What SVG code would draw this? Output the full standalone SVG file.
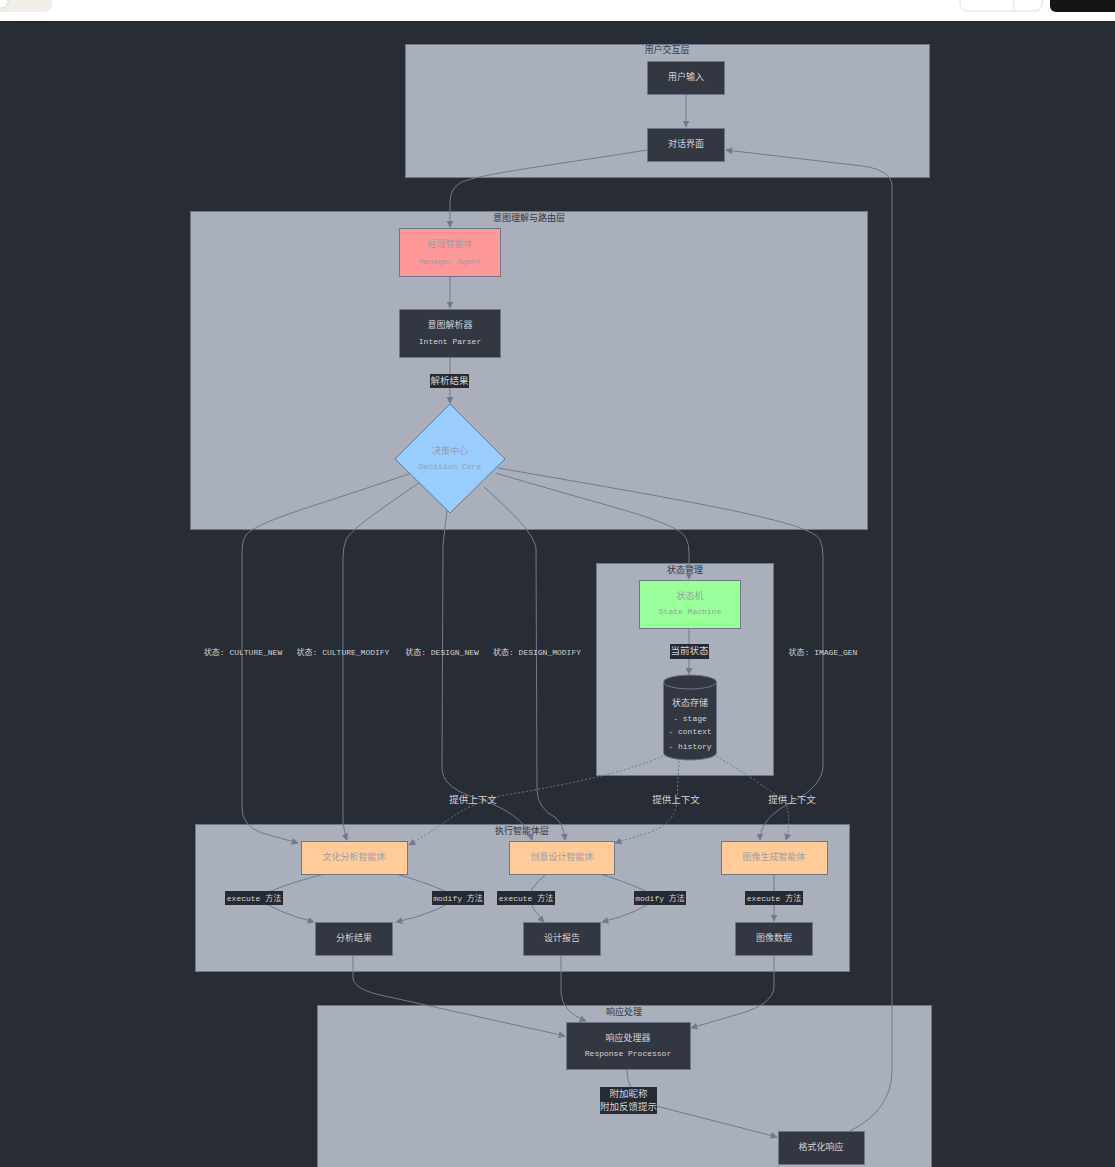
<svg xmlns="http://www.w3.org/2000/svg" width="1115" height="1167" viewBox="0 0 1115 1167">
  <defs>
    <marker id="arrow" viewBox="0 0 10 10" refX="9" refY="5" markerWidth="7" markerHeight="7" orient="auto-start-reverse" markerUnits="userSpaceOnUse">
      <path d="M0,0 L10,5 L0,10 z" fill="#6f7a8d"/>
    </marker>
    <style>
      .cluster { fill: #a9b0bc; stroke: #6f7888; stroke-width: 1; }
      .clabel { font-family: "Liberation Mono", "Noto Sans CJK SC", monospace; font-size: 9px; fill: #333740; text-anchor: middle; }
      .dark { fill: #333741; stroke: #6e7789; stroke-width: 1; }
      .txt { font-family: "Liberation Mono", "Noto Sans CJK SC", monospace; font-size: 8px; fill: #d2d4d8; text-anchor: middle; dominant-baseline: central; }
      .cjk { font-size: 9px; }
      .dim { fill: #9a9ea6; }
      .edge { fill: none; stroke: #6f7a8d; stroke-width: 1; }
      .dotted { stroke-dasharray: 2 2; }
      .elbg { fill: #262a33; }
      .eltxt { font-family: "Liberation Mono", "Noto Sans CJK SC", monospace; font-size: 8px; fill: #d2d4d8; text-anchor: middle; dominant-baseline: central; }
      .elcjk { font-size: 9.5px; }
    </style>
  </defs>

  <!-- page chrome -->
  <rect x="0" y="0" width="1115" height="21" fill="#ffffff"/>
  <rect x="-12" y="-12" width="64" height="24" rx="8" fill="#f0eee6"/>
  <rect x="-12" y="-12" width="20" height="20" rx="6" fill="#ffffff" stroke="#d8d6cf"/>
  <rect x="960" y="-12" width="82" height="23" rx="7" fill="#ffffff" stroke="#dedede"/>
  <line x1="1014" y1="0" x2="1014" y2="11" stroke="#dedede"/>
  <rect x="1050" y="-12" width="80" height="24" rx="6" fill="#141414"/>
  <rect x="0" y="21" width="1115" height="1146" fill="#282c34"/>

  <!-- clusters -->
  <g id="cluster-interaction">
    <rect class="cluster" x="405.5" y="44.5" width="524" height="133"/>
    <text class="clabel" x="667" y="53">用户交互层</text>
  </g>
  <g id="cluster-routing">
    <rect class="cluster" x="190.5" y="211.5" width="677" height="318"/>
    <text class="clabel" x="529" y="221">意图理解与路由层</text>
  </g>
  <g id="cluster-state">
    <rect class="cluster" x="596.5" y="563.5" width="177" height="212"/>
    <text class="clabel" x="685" y="573">状态管理</text>
  </g>
  <g id="cluster-agents">
    <rect class="cluster" x="195.5" y="824.5" width="654" height="147"/>
    <text class="clabel" x="522" y="834">执行智能体层</text>
  </g>
  <g id="cluster-response">
    <rect class="cluster" x="317.5" y="1005.5" width="614" height="170"/>
    <text class="clabel" x="624" y="1015">响应处理</text>
  </g>

  <!-- connectors -->
  <g id="connectors">
    <path class="edge" d="M686,95 L686,127" marker-end="url(#arrow)"/>
    <path class="edge" d="M647,150 C560,164 480,174 462,182 Q450,188 450,202 L450,227" marker-end="url(#arrow)"/>
    <path class="edge" d="M850,1131 Q892,1110 892,1070 L892,186 Q892,170 862,166 L726,150" marker-end="url(#arrow)"/>
    <path class="edge" d="M450,276 L450,308" marker-end="url(#arrow)"/>
    <path class="edge" d="M450,357 L450,403" marker-end="url(#arrow)"/>

    <path class="edge" d="M411,473 C330,502 258,520 246,535 Q242,541 242,552 L242,808 Q242,826 262,833 L298,843" marker-end="url(#arrow)"/>
    <path class="edge" d="M420,482 C380,510 352,528 346,540 Q343,547 343,558 L343,822 Q344,832 347,840" marker-end="url(#arrow)"/>
    <path class="edge" d="M447,510 L443,545 L442,768 Q442,786 470,796 Q524,812 532,840" marker-end="url(#arrow)"/>
    <path class="edge" d="M484,487 C515,515 533,533 536,548 L537,790 Q537,808 556,818 Q564,826 565,840" marker-end="url(#arrow)"/>
    <path class="edge" d="M496,473 C600,505 676,520 686,538 Q689,544 689,552 L689,579" marker-end="url(#arrow)"/>
    <path class="edge" d="M498,468 C700,503 812,522 820,540 Q823,546 823,556 L823,765 Q823,786 792,802 Q760,818 760,840" marker-end="url(#arrow)"/>

    <path class="edge" d="M689,628 L689,674" marker-end="url(#arrow)"/>
    <path class="edge dotted" d="M663,756 Q620,776 500,796 Q470,805 455,815 Q430,833 409,845" marker-end="url(#arrow)"/>
    <path class="edge dotted" d="M679,761 L677,800 Q676,825 645,834 L615,843" marker-end="url(#arrow)"/>
    <path class="edge dotted" d="M716,756 Q760,782 785,802 Q792,820 786,840" marker-end="url(#arrow)"/>

    <path class="edge" d="M324,874 Q272,888 258,898 Q275,912 314,922" marker-end="url(#arrow)"/>
    <path class="edge" d="M396,874 Q445,888 455,898 Q440,912 396,922" marker-end="url(#arrow)"/>
    <path class="edge" d="M546,874 Q530,888 528,898 Q534,912 544,922" marker-end="url(#arrow)"/>
    <path class="edge" d="M600,874 Q645,888 656,898 Q642,912 602,922" marker-end="url(#arrow)"/>
    <path class="edge" d="M774,874 L774,921" marker-end="url(#arrow)"/>

    <path class="edge" d="M353,955 L353,978 Q354,990 385,996 L565,1036" marker-end="url(#arrow)"/>
    <path class="edge" d="M561,955 L561,993 Q562,1012 586,1021" marker-end="url(#arrow)"/>
    <path class="edge" d="M774,955 L774,988 Q772,1004 742,1013 L691,1028" marker-end="url(#arrow)"/>
    <path class="edge" d="M627,1069 C627,1086 634,1096 656,1106 L777,1137" marker-end="url(#arrow)"/>
  </g>

  <!-- connector labels -->
  <g id="edge-labels">
    <rect class="elbg" x="430" y="374" width="39" height="14"/>
    <text class="eltxt elcjk" x="449.5" y="381">解析结果</text>
    <text class="eltxt" x="243" y="652">状态: CULTURE_NEW</text>
    <text class="eltxt" x="343" y="652">状态: CULTURE_MODIFY</text>
    <text class="eltxt" x="442" y="652">状态: DESIGN_NEW</text>
    <text class="eltxt" x="537" y="652">状态: DESIGN_MODIFY</text>
    <text class="eltxt" x="823" y="652">状态: IMAGE_GEN</text>
    <rect class="elbg" x="670" y="644" width="39" height="15"/>
    <text class="eltxt elcjk" x="689.5" y="651.5">当前状态</text>
    <text class="eltxt elcjk" x="473" y="800">提供上下文</text>
    <text class="eltxt elcjk" x="676" y="800">提供上下文</text>
    <text class="eltxt elcjk" x="792" y="800">提供上下文</text>
    <rect class="elbg" x="225" y="891" width="58" height="14"/>
    <text class="eltxt" x="254" y="898">execute 方法</text>
    <rect class="elbg" x="432" y="891" width="52" height="14"/>
    <text class="eltxt" x="458" y="898">modify 方法</text>
    <rect class="elbg" x="497" y="891" width="58" height="14"/>
    <text class="eltxt" x="526" y="898">execute 方法</text>
    <rect class="elbg" x="634" y="891" width="52" height="14"/>
    <text class="eltxt" x="660" y="898">modify 方法</text>
    <rect class="elbg" x="745" y="891" width="58" height="14"/>
    <text class="eltxt" x="774" y="898">execute 方法</text>
    <rect class="elbg" x="600" y="1087" width="57" height="27"/>
    <text class="eltxt elcjk" x="628.5" y="1094">附加昵称</text>
    <text class="eltxt elcjk" x="628.5" y="1107.5">附加反馈提示</text>
  </g>

  <!-- nodes -->
  <g id="node-user-input">
    <rect class="dark" x="647.5" y="61.5" width="77" height="33"/>
    <text class="txt cjk" x="686" y="78">用户输入</text>
  </g>
  <g id="node-chat-ui">
    <rect class="dark" x="647.5" y="128.5" width="77" height="33"/>
    <text class="txt cjk" x="686" y="145">对话界面</text>
  </g>
  <g id="node-manager">
    <rect x="399.5" y="228.5" width="101" height="48" fill="#ff9999" stroke="#6e7789"/>
    <text class="txt cjk dim" x="450" y="245">经理智能体</text>
    <text class="txt dim" x="450" y="261">Manager Agent</text>
  </g>
  <g id="node-intent-parser">
    <rect class="dark" x="399.5" y="309.5" width="101" height="48"/>
    <text class="txt cjk" x="450" y="326">意图解析器</text>
    <text class="txt" x="450" y="341">Intent Parser</text>
  </g>
  <g id="node-decision">
    <polygon points="450,404 505,459 450,513 395,459" fill="#99ccff" stroke="#6e7789"/>
    <text class="txt cjk dim" x="450" y="452">决策中心</text>
    <text class="txt dim" x="450" y="466">Decision Core</text>
  </g>
  <g id="node-state-machine">
    <rect x="639.5" y="580.5" width="101" height="48" fill="#99ff99" stroke="#6e7789"/>
    <text class="txt cjk dim" x="690" y="597">状态机</text>
    <text class="txt dim" x="690" y="611">State Machine</text>
  </g>
  <g id="node-state-store">
    <path d="M663.5,682 L663.5,753 A26.5,7 0 0 0 716.5,753 L716.5,682 A26.5,7 0 0 0 663.5,682 Z" fill="#333741" stroke="#6e7789"/>
    <path d="M663.5,682 A26.5,7 0 0 0 716.5,682" fill="none" stroke="#6e7789"/>
    <text class="txt cjk" x="690" y="704">状态存储</text>
    <text class="txt" x="690" y="718">- stage</text>
    <text class="txt" x="690" y="731">- context</text>
    <text class="txt" x="690" y="746">- history</text>
  </g>
  <g id="node-culture-agent">
    <rect x="301.5" y="841.5" width="106" height="33" fill="#ffcc99" stroke="#6e7789"/>
    <text class="txt cjk dim" x="354" y="858">文化分析智能体</text>
  </g>
  <g id="node-design-agent">
    <rect x="509.5" y="841.5" width="105" height="33" fill="#ffcc99" stroke="#6e7789"/>
    <text class="txt cjk dim" x="562" y="858">创意设计智能体</text>
  </g>
  <g id="node-image-agent">
    <rect x="721.5" y="841.5" width="106" height="33" fill="#ffcc99" stroke="#6e7789"/>
    <text class="txt cjk dim" x="774" y="858">图像生成智能体</text>
  </g>
  <g id="node-analysis-result">
    <rect class="dark" x="315.5" y="922.5" width="77" height="33"/>
    <text class="txt cjk" x="354" y="939">分析结果</text>
  </g>
  <g id="node-design-report">
    <rect class="dark" x="523.5" y="922.5" width="77" height="33"/>
    <text class="txt cjk" x="562" y="939">设计报告</text>
  </g>
  <g id="node-image-data">
    <rect class="dark" x="735.5" y="922.5" width="77" height="33"/>
    <text class="txt cjk" x="774" y="939">图像数据</text>
  </g>
  <g id="node-response-processor">
    <rect class="dark" x="566.5" y="1022.5" width="124" height="47"/>
    <text class="txt cjk" x="628" y="1039">响应处理器</text>
    <text class="txt" x="628" y="1053">Response Processor</text>
  </g>
  <g id="node-formatted-response">
    <rect class="dark" x="778.5" y="1131.5" width="86" height="33"/>
    <text class="txt cjk" x="821" y="1148">格式化响应</text>
  </g>
</svg>
